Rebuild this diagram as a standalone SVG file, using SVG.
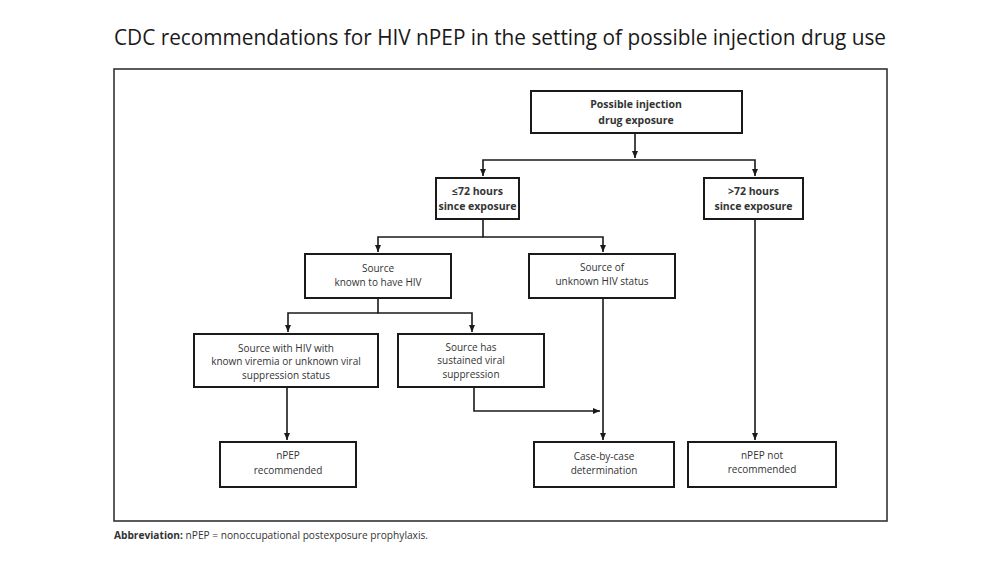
<svg xmlns="http://www.w3.org/2000/svg" width="1000" height="563" viewBox="0 0 1000 563">
<defs>
<marker id="ah" markerWidth="8" markerHeight="8" refX="7" refY="4" orient="auto" markerUnits="userSpaceOnUse">
<path d="M0,1 L7,4 L0,7 Z" fill="#1a1a1a"/>
</marker>
<style>
.box{fill:#fff;stroke:#1a1a1a;stroke-width:2}
.t{font-family:"Open Sans","Liberation Sans",sans-serif;font-size:10px;fill:#333;text-anchor:middle}
.b{font-weight:bold;font-size:10.5px}
.c{fill:none;stroke:#1a1a1a;stroke-width:1.6}
</style>
</defs>
<rect width="1000" height="563" fill="#fff"/>
<text x="500" y="45" font-family="'Open Sans','Liberation Sans',sans-serif" font-size="21" fill="#1a1a1a" text-anchor="middle" textLength="772" lengthAdjust="spacingAndGlyphs">CDC recommendations for HIV nPEP in the setting of possible injection drug use</text>
<rect x="114" y="69" width="773" height="452" fill="none" stroke="#333" stroke-width="1.6"/>
<g id="connectors">
<path class="c" d="M635,134 V158" marker-end="url(#ah)"/>
<path class="c" d="M635,160 H483 V176" marker-end="url(#ah)"/>
<path class="c" d="M635,160 H755 V176" marker-end="url(#ah)"/>
<path class="c" d="M483,219 V237 H603 V252" marker-end="url(#ah)"/>
<path class="c" d="M483,237 H378 V252" marker-end="url(#ah)"/>
<path class="c" d="M378,298 V313 H472 V332" marker-end="url(#ah)"/>
<path class="c" d="M378,313 H288 V332" marker-end="url(#ah)"/>
<path class="c" d="M287,387 V440" marker-end="url(#ah)"/>
<path class="c" d="M474,387 V411 H600" marker-end="url(#ah)"/>
<path class="c" d="M603,298 V440" marker-end="url(#ah)"/>
<path class="c" d="M755,219 V440" marker-end="url(#ah)"/>
</g>
<g id="n-start"><rect class="box" x="531" y="91" width="211" height="42"/><text class="t b" x="636" y="108">Possible injection</text><text class="t b" x="636" y="124">drug exposure</text></g>
<g id="n-le72"><rect class="box" x="436" y="178" width="83" height="41"/><text class="t b" x="477.5" y="195" font-size="10">≤72 hours</text><text class="t b" x="477.5" y="210" font-size="10">since exposure</text></g>
<g id="n-gt72"><rect class="box" x="704" y="178" width="99" height="41"/><text class="t b" x="753.5" y="195" font-size="10">&gt;72 hours</text><text class="t b" x="753.5" y="210" font-size="10">since exposure</text></g>
<g id="n-known"><rect class="box" x="305" y="254" width="146" height="44"/><text class="t" x="378" y="272">Source</text><text class="t" x="378" y="286">known to have HIV</text></g>
<g id="n-unknown"><rect class="box" x="529" y="254" width="146" height="44"/><text class="t" x="602" y="271">Source of</text><text class="t" x="602" y="285">unknown HIV status</text></g>
<g id="n-viremia"><rect class="box" x="194" y="334" width="184" height="53"/><text class="t" x="286" y="352">Source with HIV with</text><text class="t" x="286" y="365">known viremia or unknown viral</text><text class="t" x="286" y="379">suppression status</text></g>
<g id="n-sustained"><rect class="box" x="398" y="334" width="146" height="53"/><text class="t" x="471" y="351">Source has</text><text class="t" x="471" y="364">sustained viral</text><text class="t" x="471" y="378">suppression</text></g>
<g id="n-rec"><rect class="box" x="220" y="442" width="136" height="45"/><text class="t" x="288" y="459">nPEP</text><text class="t" x="288" y="474">recommended</text></g>
<g id="n-case"><rect class="box" x="534" y="442" width="140" height="45"/><text class="t" x="604" y="460">Case-by-case</text><text class="t" x="604" y="474">determination</text></g>
<g id="n-notrec"><rect class="box" x="688" y="442" width="148" height="45"/><text class="t" x="762" y="459">nPEP not</text><text class="t" x="762" y="473">recommended</text></g>
<text x="114" y="539" font-family="'Open Sans','Liberation Sans',sans-serif" font-size="10" fill="#333" textLength="314" lengthAdjust="spacingAndGlyphs"><tspan font-weight="bold">Abbreviation:</tspan> nPEP = nonoccupational postexposure prophylaxis.</text>
</svg>
